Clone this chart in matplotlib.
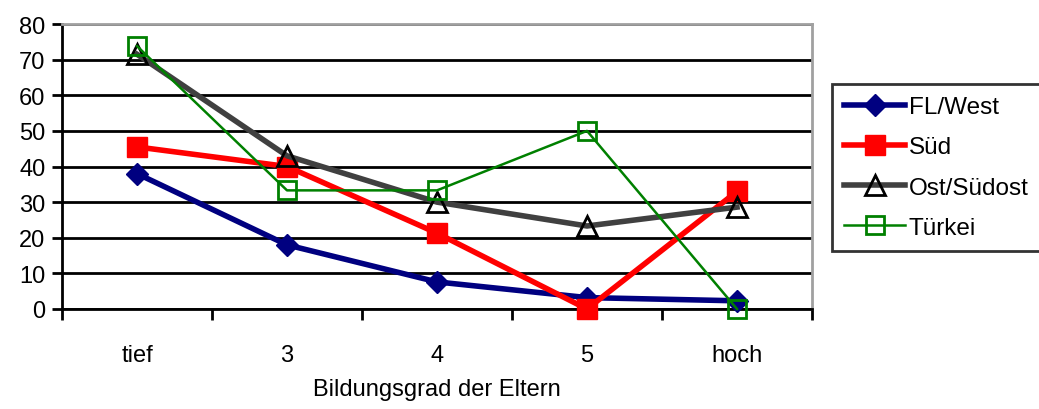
import matplotlib
matplotlib.use('Agg')
import matplotlib.pyplot as plt
import numpy as np

plt.rcParams['font.family'] = ['Liberation Sans', 'DejaVu Sans']

# Kategorien und Werte je Herkunftsgruppe
kategorien = ['tief', '3', '4', '5', 'hoch']
fl_west = [38, 18, 7.6, 3.2, 2.3]
sued = [45.5, 40, 21.3, 0, 33]
ost_suedost = [71.5, 43, 30, 23.3, 28.6]
tuerkei = [73.8, 33.3, 33.3, 50, 0]

fig = plt.figure(figsize=(10.39, 4.10), dpi=100)
ax = fig.add_axes([62 / 1039, 1 - 310 / 410, 750 / 1039, 285 / 410])

x = np.arange(len(kategorien))

ax.plot(x, fl_west, color='#000080', lw=4, marker='D', ms=11,
        mfc='#000080', mec='#000080', label='FL/West', zorder=4, clip_on=False)
ax.plot(x, sued, color='#ff0000', lw=4, marker='s', ms=14,
        mfc='#ff0000', mec='#ff0000', label='Süd', zorder=4, clip_on=False)
ax.plot(x, ost_suedost, color='#404040', lw=4, marker='^', ms=14,
        mfc='none', mec='black', mew=2, label='Ost/Südost', zorder=4, clip_on=False)
ax.plot(x, tuerkei, color='#008000', lw=1.8, marker='s', ms=13,
        mfc='none', mec='#008000', mew=2, label='Türkei', zorder=5, clip_on=False)

ax.set_xlim(-0.5, 4.5)
ax.set_ylim(0, 80)
ax.set_yticks(range(0, 81, 10))
ax.set_xticks(x)
ax.set_xticklabels(kategorien)
ax.set_xticks(np.arange(-0.5, 5, 1), minor=True)
ax.tick_params(axis='x', which='major', length=0, pad=25, labelsize=17)
ax.tick_params(axis='x', which='minor', length=8, width=2, direction='out')
ax.tick_params(axis='y', length=7, width=2, direction='out', labelsize=17, pad=5)

ax.grid(axis='y', color='black', lw=2)
ax.set_axisbelow(True)
for s in ['left', 'bottom']:
    ax.spines[s].set_color('black')
    ax.spines[s].set_linewidth(2)
for s in ['top', 'right']:
    ax.spines[s].set_color('#a0a0a0')
    ax.spines[s].set_linewidth(2)

ax.set_xlabel('Bildungsgrad der Eltern', fontsize=17, labelpad=9)

leg = ax.legend(loc='upper left', bbox_to_anchor=(832 / 1039, 1 - 85 / 410),
                bbox_transform=fig.transFigure, fontsize=17.5, frameon=True,
                fancybox=False, edgecolor='black', handlelength=2.5,
                handletextpad=0.15, borderpad=0.5, labelspacing=0.75,
                borderaxespad=0)
leg.get_frame().set_linewidth(2)

fig.savefig('out.png', dpi=100)
